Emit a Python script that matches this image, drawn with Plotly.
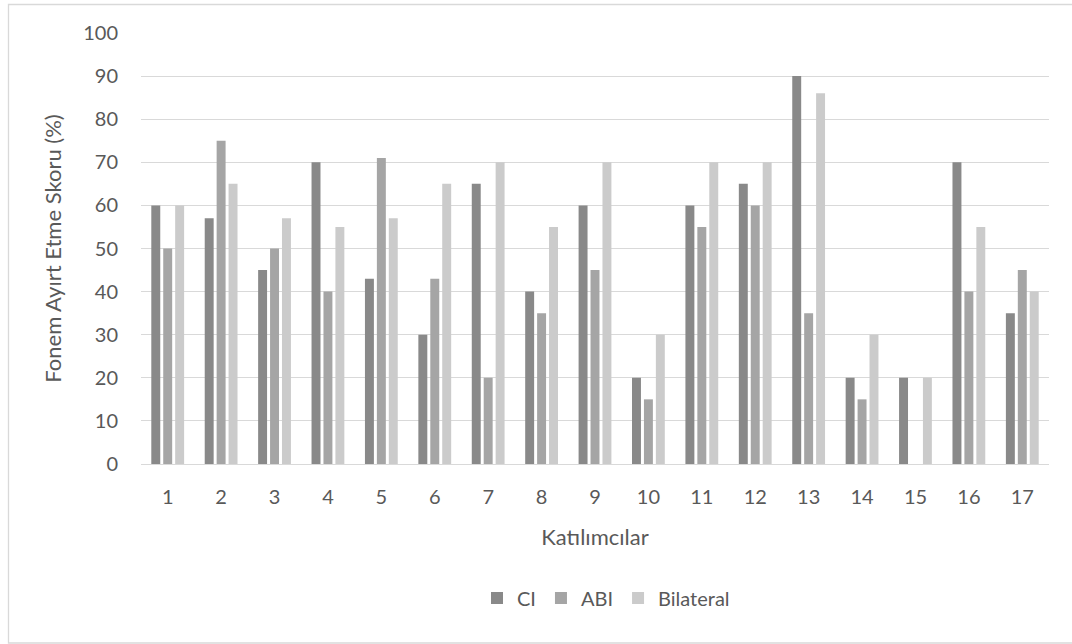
import plotly.graph_objects as go

participants = [str(i) for i in range(1, 18)]
ci = [60, 57, 45, 70, 43, 30, 65, 40, 60, 20, 60, 65, 90, 20, 20, 70, 35]
abi = [50, 75, 50, 40, 71, 43, 20, 35, 45, 15, 55, 60, 35, 15, 0, 40, 45]
bilateral = [60, 65, 57, 55, 57, 65, 70, 55, 70, 30, 70, 70, 86, 30, 20, 55, 40]
series_names = ["CI", "ABI", "Bilateral"]
y_ticks = list(range(0, 101, 10))

FONT = "Lato, 'Open Sans', sans-serif"
TXT = "#595959"

fig = go.Figure()
for name, vals, col in zip(series_names, [ci, abi, bilateral], ["#898989", "#a5a5a5", "#cbcbcb"]):
    fig.add_trace(go.Bar(x=participants, y=vals, name=name, marker=dict(color=col, line=dict(width=0))))

L, R, T, B = 141, 23, 33, 180
W, H = 1072, 644
pw, ph = W - L - R, H - T - B

def px_x(p):
    return (p - L) / pw

def px_y(p):
    return (H - B - p) / ph

fig.update_layout(
    width=W, height=H,
    margin=dict(l=L, r=R, t=T, b=B, pad=0),
    paper_bgcolor="white", plot_bgcolor="white",
    barmode="group", bargap=0.33, bargroupgap=0.25,
    font=dict(family=FONT, color=TXT, size=20),
    showlegend=True,
    legend=dict(orientation="h", x=px_x(606), xanchor="center", y=px_y(598), yanchor="middle",
                font=dict(size=20, color=TXT), itemwidth=30, traceorder="normal"),
    xaxis=dict(type="category", showgrid=False, showline=False, zeroline=False,
               tickfont=dict(size=20, color=TXT), ticks="", ticklabelstandoff=19,
               title=dict(text="Katılımcılar", font=dict(size=22, color=TXT), standoff=22)),
    yaxis=dict(range=[0, 100], tickvals=y_ticks, showgrid=True, gridcolor="#d9d9d9", gridwidth=1.3,
               zeroline=True, zerolinecolor="#d9d9d9", zerolinewidth=1.3, showline=False,
               tickfont=dict(size=20, color=TXT), ticks="", ticklabelstandoff=22,
               title=dict(text="Fonem Ayırt Etme Skoru (%)", font=dict(size=22, color=TXT), standoff=15)),
    shapes=[dict(type="rect", xref="paper", yref="paper",
                 x0=px_x(8.5), x1=px_x(1080), y0=px_y(643), y1=px_y(4.5),
                 line=dict(color="#d9d9d9", width=1.3), fillcolor="rgba(0,0,0,0)", layer="below")],
)

fig.write_html("out.html")
